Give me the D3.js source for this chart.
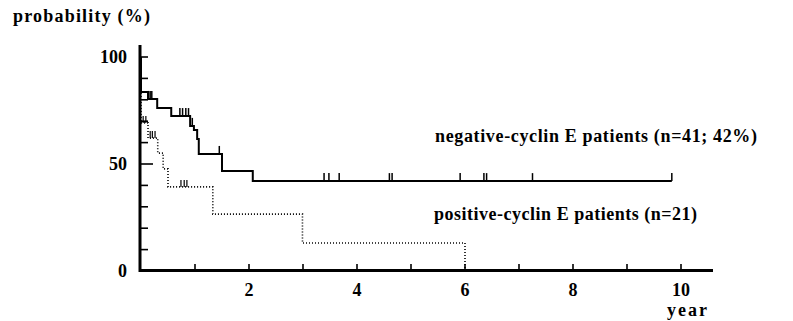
<!DOCTYPE html>
<html>
<head>
<meta charset="utf-8">
<script src="https://cdn.jsdelivr.net/npm/d3@7"></script>
<style>
  body { margin: 0; background: #fff; }
  text { font-family: "Liberation Serif", "Times New Roman", serif; font-weight: bold; fill: #000; }
</style>
</head>
<body>
<div id="chart"></div>
<script>
// Kaplan-Meier style step curves
// step points: [year, probability %]
const negativeSteps = [[0, 100], [0, 83.6], [0.13, 80.4], [0.30, 76.2], [0.56, 72.4], [0.91, 67.8],
  [0.98, 65.9], [1.04, 61.7], [1.07, 54.7], [1.50, 46.7], [2.07, 42.0]];
const negativeEnd = 9.83;
const negativeCensored = [[0.14, 80.4], [0.17, 80.4], [0.20, 80.4], [0.72, 72.4], [0.77, 72.4], [0.83, 72.4],
  [0.88, 72.4], [0.95, 67.8], [1.45, 54.7], [3.39, 42.0], [3.48, 42.0], [3.67, 42.0], [4.60, 42.0],
  [4.65, 42.0], [5.91, 42.0], [6.35, 42.0], [6.40, 42.0], [7.25, 42.0], [9.83, 42.0]];

const positiveSteps = [[0, 100], [0, 69.2], [0.13, 62.1], [0.31, 55.1], [0.41, 47.7], [0.50, 39.3],
  [1.33, 26.6], [2.99, 13.1], [6.0, 0]];
const positiveEnd = 6.0;
const positiveCensored = [[0.04, 69.2], [0.09, 69.2], [0.17, 62.1], [0.21, 62.1], [0.26, 62.1],
  [0.74, 39.3], [0.80, 39.3], [0.85, 39.3]];

const xTicks = [1, 2, 3, 4, 5, 6, 7, 8, 9, 10];
const xLabels = [2, 4, 6, 8, 10];
const yTicks = [10, 20, 30, 40, 50, 60, 70, 80, 90, 100];
const yLabels = [0, 50, 100];

const W = 793, H = 321;
const x = d3.scaleLinear().domain([0, 10]).range([141, 681]);
const y = d3.scaleLinear().domain([0, 100]).range([271, 57]);

const svg = d3.select("#chart").append("svg")
  .attr("width", W).attr("height", H);

// axes, drawn as plain lines with inward ticks
svg.append("line").attr("x1", 140).attr("x2", 140).attr("y1", 45).attr("y2", 272)
  .attr("stroke", "#000").attr("stroke-width", 3);
svg.append("line").attr("x1", 139).attr("x2", 713).attr("y1", 270.5).attr("y2", 270.5)
  .attr("stroke", "#000").attr("stroke-width", 3);

svg.selectAll(".ytick").data(yTicks).enter().append("line")
  .attr("x1", 140).attr("x2", d => d === 50 ? 153 : 148)
  .attr("y1", d => y(d)).attr("y2", d => y(d))
  .attr("stroke", "#000").attr("stroke-width", 1.6);

svg.selectAll(".xtick").data(xTicks).enter().append("line")
  .attr("x1", d => x(d)).attr("x2", d => x(d))
  .attr("y1", 270).attr("y2", 264)
  .attr("stroke", "#000").attr("stroke-width", 1.6);

svg.selectAll(".ylab").data(yLabels).enter().append("text")
  .attr("x", 127).attr("y", d => y(d) + 6)
  .attr("text-anchor", "end").attr("font-size", 18)
  .text(d => d);

svg.selectAll(".xlab").data(xLabels).enter().append("text")
  .attr("x", d => x(d)).attr("y", 296)
  .attr("text-anchor", "middle").attr("font-size", 18)
  .text(d => d);

svg.append("text").attr("x", 667).attr("y", 316)
  .attr("font-size", 18).attr("textLength", 40).attr("lengthAdjust", "spacing").text("year");
svg.append("text").attr("x", 13).attr("y", 22).attr("font-size", 18)
  .attr("textLength", 137).attr("lengthAdjust", "spacing").text("probability (%)");
svg.append("text").attr("x", 435).attr("y", 142).attr("font-size", 18)
  .attr("textLength", 322).attr("lengthAdjust", "spacing")
  .text("negative-cyclin E patients (n=41; 42%)");
svg.append("text").attr("x", 434).attr("y", 220).attr("font-size", 18)
  .attr("textLength", 263).attr("lengthAdjust", "spacing")
  .text("positive-cyclin E patients (n=21)");

const line = d3.line().x(d => x(d[0])).y(d => y(d[1])).curve(d3.curveStepAfter);

svg.append("path")
  .datum(negativeSteps.concat([[negativeEnd, negativeSteps[negativeSteps.length - 1][1]]]))
  .attr("d", line).attr("fill", "none").attr("stroke", "#000").attr("stroke-width", 2);

svg.append("path")
  .datum(positiveSteps.concat([[positiveEnd, 0]]))
  .attr("d", line).attr("fill", "none").attr("stroke", "#000")
  .attr("stroke-width", 1.6).attr("stroke-dasharray", "1,2");

// censor marks
svg.selectAll(".cneg").data(negativeCensored).enter().append("line")
  .attr("x1", d => x(d[0])).attr("x2", d => x(d[0]))
  .attr("y1", d => y(d[1])).attr("y2", d => y(d[1]) - 8)
  .attr("stroke", "#000").attr("stroke-width", 1.5);

svg.selectAll(".cpos").data(positiveCensored).enter().append("line")
  .attr("x1", d => x(d[0])).attr("x2", d => x(d[0]))
  .attr("y1", d => y(d[1])).attr("y2", d => y(d[1]) - 7)
  .attr("stroke", "#000").attr("stroke-width", 1.2);
</script>
</body>
</html>
